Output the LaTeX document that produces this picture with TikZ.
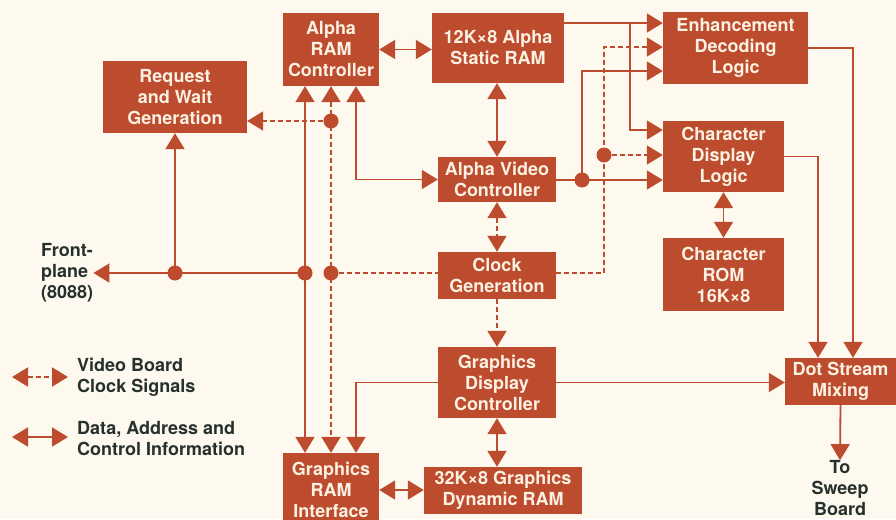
\documentclass[tikz,border=0pt]{standalone}
\usepackage{fontspec}
\setmainfont{TeX Gyre Heros}
\usetikzlibrary{arrows.meta}
\definecolor{rust}{HTML}{BC4C2D}
\definecolor{paper}{HTML}{FDF9EE}
\definecolor{ink}{HTML}{26302D}
\definecolor{boxtext}{HTML}{FCF1E2}
\begin{document}
\begin{tikzpicture}[x=1pt,y=-1pt,
  box/.style={fill=rust, text=boxtext, font=\bfseries\fontsize{18}{21}\selectfont, align=center, inner sep=0pt},
  lbl/.style={text=ink, font=\bfseries\fontsize{18}{21}\selectfont, inner sep=0pt},
  wire/.style={draw=rust, line width=1.8pt},
  dwire/.style={draw=rust, line width=1.8pt, dash pattern=on 5pt off 3pt},
  tip/.style={-{Triangle[width=19pt,length=16pt]}},
  dtip/.style={{Triangle[width=19pt,length=16pt]}-{Triangle[width=19pt,length=16pt]}},
]
\useasboundingbox (0,0) rectangle (896,519);
\clip (0,0) rectangle (896,519);
\fill[paper] (0,0) rectangle (896,519);

% boxes
\node[box, minimum width=96pt, minimum height=73pt] (arc) at (331,49.5) {Alpha\\RAM\\Controller};
\node[box, minimum width=144pt, minimum height=72pt] (rwg) at (175,97) {Request\\and Wait\\Generation};
\node[box, minimum width=132pt, minimum height=70pt] (sram) at (498,48) {12K×8 Alpha\\Static RAM};
\node[box, minimum width=145pt, minimum height=72pt] (enh) at (735.5,48) {Enhancement\\Decoding\\Logic};
\node[box, minimum width=121pt, minimum height=71pt] (cdl) at (723.5,156.5) {Character\\Display\\Logic};
\node[box, minimum width=118pt, minimum height=45pt] (avc) at (497,179.5) {Alpha Video\\Controller};
\node[box, minimum width=121pt, minimum height=73pt] (crom) at (723.5,274.5) {Character\\ROM\\16K×8};
\node[box, minimum width=118pt, minimum height=47pt] (clk) at (497,275.5) {Clock\\Generation};
\node[box, minimum width=118pt, minimum height=71pt] (gdc) at (497,382.5) {Graphics\\Display\\Controller};
\node[box, minimum width=158pt, minimum height=47pt] (gdr) at (503,490.5) {32K×8 Graphics\\Dynamic RAM};
\node[box, minimum width=111pt, minimum height=47pt] (dsm) at (840.5,381.5) {Dot Stream\\Mixing};
\node[box, minimum width=96pt, minimum height=74pt] (gri) at (331,490) {Graphics\\RAM\\Interface};

% labels
\node[lbl, anchor=west, align=left] (fp) at (41,273) {Front-\\plane\\(8088)};
\node[lbl, align=center] (sweep) at (840,488) {To\\Sweep\\Board};
\node[lbl, anchor=west, align=left] (leg1) at (77,377) {Video Board\\Clock Signals};
\node[lbl, anchor=west, align=left] (leg2) at (77,439) {Data, Address and\\Control Information};

% junctions
\coordinate (ja) at (630,23);
\coordinate (jb) at (630,130);
\coordinate (jd) at (604,155);
\coordinate (jdt) at (604,47);
\coordinate (jv) at (582,180);
\coordinate (jvt) at (582,71);
\coordinate (jf1) at (175,273);
\coordinate (jf2) at (305,273);
\coordinate (jc) at (331,273);
\coordinate (jr) at (331,121);
\coordinate (jx) at (356,180);
\coordinate (l1a) at (12,377);
\coordinate (l1b) at (68,377);
\coordinate (l2a) at (12,437);
\coordinate (l2b) at (68,437);

% right side connectors
\draw[wire,tip] (sram.east |- ja) -- (ja -| enh.west);
\draw[wire,tip] (ja) -- (jb) -- (jb -| cdl.west);
\draw[dwire,tip] (clk.east |- jc) -| (jdt) -- (jdt -| enh.west);
\draw[dwire,tip] (jd) -- (jd -| cdl.west);
\draw[wire,tip] (avc.east |- jv) -- (jv -| cdl.west);
\draw[wire,tip] (jv) -- (jvt) -- (jvt -| enh.west);
\draw[wire,tip] (enh.east) -| ([xshift=12.5pt]dsm.north);
\draw[wire,tip] (cdl.east) -| ([xshift=-22.5pt]dsm.north);
\draw[wire,tip] (gdc.east) -- (gdc.east -| dsm.west);
\draw[wire,tip] (dsm.south) -- (sweep.north);

% centre column
\draw[wire,dtip] (arc.east) -- (arc.east -| sram.west);
\draw[wire,dtip] (sram.south -| avc.north) -- (avc.north);
\draw[dwire,dtip] (avc.south) -- (clk.north);
\draw[dwire,tip] (clk.south) -- (gdc.north);
\draw[wire,dtip] (gdc.south) -- (gdc.south |- gdr.north);
\draw[wire,dtip] (cdl.south) -- (crom.north);
\draw[wire,dtip] (gri.east) -- (gri.east -| gdr.west);

% left side
\draw[wire,dtip] (arc.south -| jf2) -- (gri.north -| jf2);
\draw[dwire,dtip] (arc.south -| jc) -- (gri.north -| jc);
\draw[wire,dtip] (arc.south -| jx) |- (avc.west);
\draw[wire,tip] (gdc.west) -| (gri.north -| jx);
\draw[wire,tip] (jf2) -- (fp.east |- jf2);
\draw[wire,tip] (jf1) -- (rwg.south);
\draw[dwire,tip] (jr) -- (rwg.east |- jr);
\draw[dwire] (jc) -- (clk.west |- jc);

% dots
\foreach \p in {jf1,jf2,jc,jr,jd,jv} \fill[rust] (\p) circle (7.5);

% legend
\draw[dwire,dtip] (l1a) -- (l1b);
\draw[wire,dtip] (l2a) -- (l2b);
\end{tikzpicture}
\end{document}
